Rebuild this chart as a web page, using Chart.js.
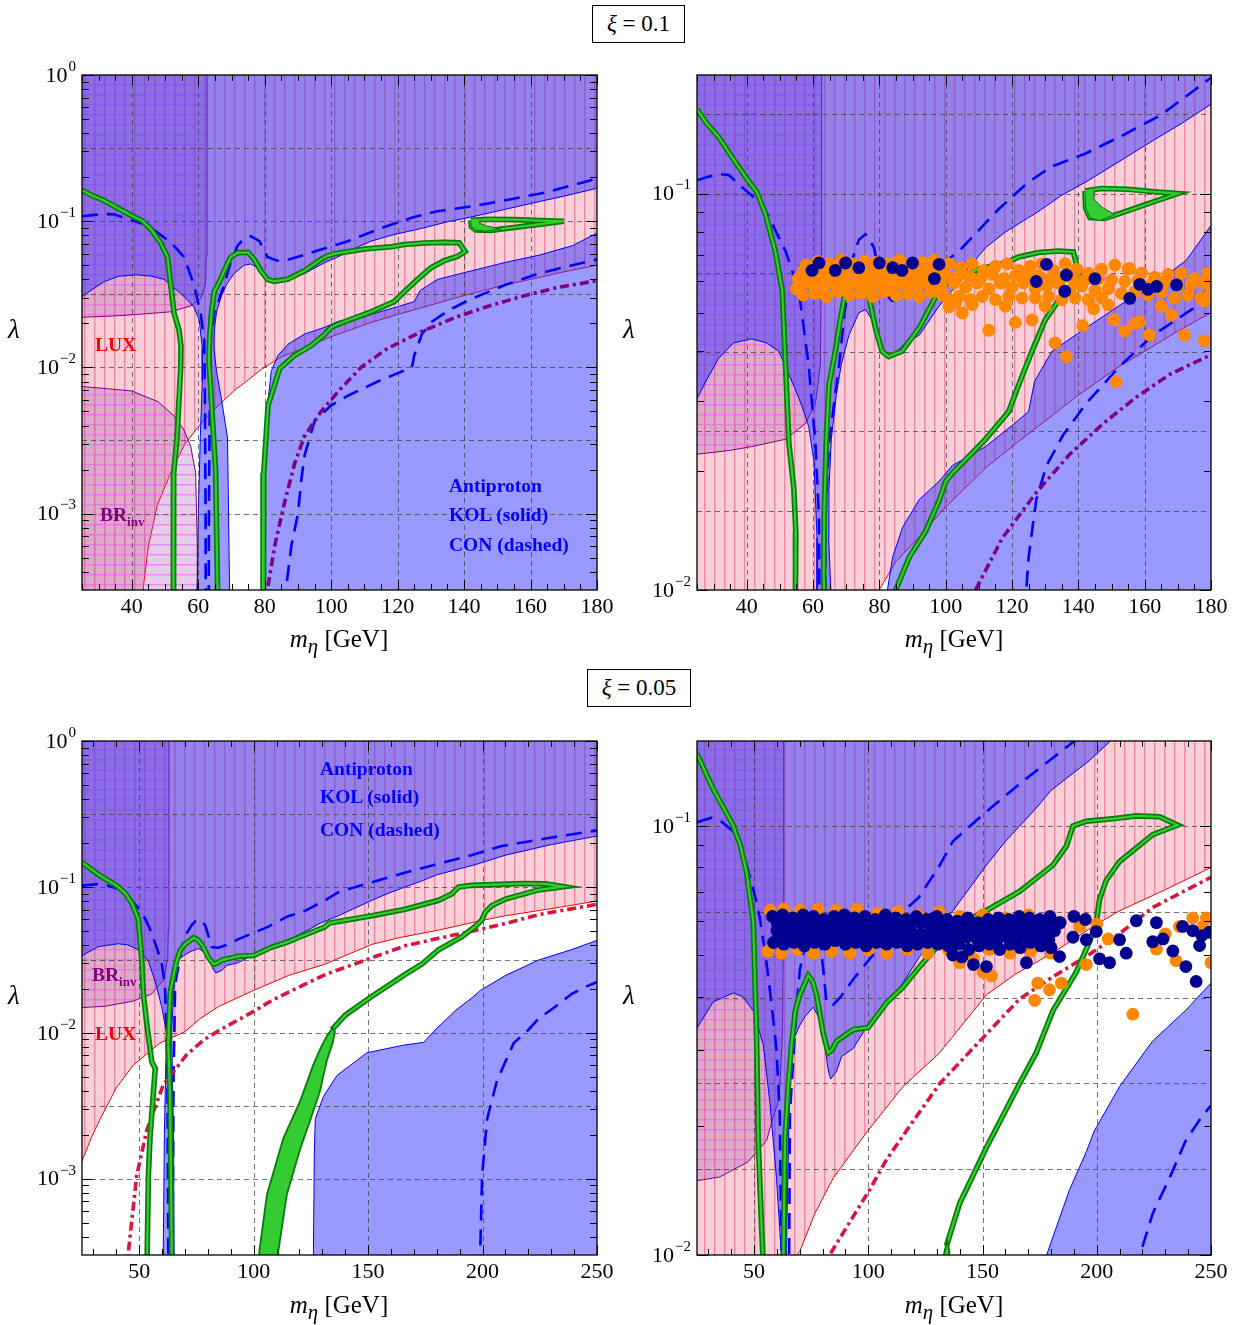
<!DOCTYPE html>
<html>
<head>
<meta charset="utf-8">
<script src="https://cdn.jsdelivr.net/npm/chart.js@4.4.1/dist/chart.umd.min.js"></script>
<style>
body{margin:0;background:#fff;}
#page{position:relative;width:1244px;height:1325px;font-family:"Liberation Serif",serif;color:#000;}
canvas{position:absolute;}
.t{position:absolute;white-space:nowrap;line-height:1;}
.box{position:absolute;border:1px solid #000;box-sizing:border-box;font-size:23px;text-align:center;line-height:36px;background:#fff;}
.ax{font-size:25px;transform:translateX(-50%);}
.lam{font-size:27px;font-style:italic;}
.note{font-weight:bold;font-size:19.5px;}
.sub{font-size:13px;position:relative;top:5px;}
</style>
</head>
<body>
<div id="page">
<canvas id="c1" width="620" height="600" style="left:0;top:60px"></canvas>
<canvas id="c2" width="624" height="600" style="left:620px;top:60px"></canvas>
<canvas id="c3" width="620" height="600" style="left:0;top:725px"></canvas>
<canvas id="c4" width="624" height="600" style="left:620px;top:725px"></canvas>

<div class="box" style="left:592px;top:5px;width:93px;height:38px"><i>ξ</i> = 0.1</div>
<div class="box" style="left:587px;top:669px;width:104px;height:38px"><i>ξ</i> = 0.05</div>

<div class="t lam" style="left:8px;top:316px">λ</div>
<div class="t lam" style="left:623px;top:316px">λ</div>
<div class="t lam" style="left:8px;top:982px">λ</div>
<div class="t lam" style="left:623px;top:982px">λ</div>

<div class="t ax" style="left:339px;top:626px"><i>m</i><sub><i>η</i></sub> [GeV]</div>
<div class="t ax" style="left:954px;top:626px"><i>m</i><sub><i>η</i></sub> [GeV]</div>
<div class="t ax" style="left:339px;top:1292px"><i>m</i><sub><i>η</i></sub> [GeV]</div>
<div class="t ax" style="left:954px;top:1292px"><i>m</i><sub><i>η</i></sub> [GeV]</div>

<div class="t note" style="left:95px;top:335px;color:#ff0000">LUX</div>
<div class="t note" style="left:100px;top:505px;color:#800080">BR<span class="sub">inv</span></div>
<div class="t note" style="left:449px;top:476px;color:#0000ff">Antiproton</div>
<div class="t note" style="left:449px;top:505px;color:#0000ff">KOL (solid)</div>
<div class="t note" style="left:449px;top:535px;color:#0000ff">CON (dashed)</div>

<div class="t note" style="left:320px;top:759px;color:#0000ff">Antiproton</div>
<div class="t note" style="left:320px;top:787px;color:#0000ff">KOL (solid)</div>
<div class="t note" style="left:320px;top:820px;color:#0000ff">CON (dashed)</div>
<div class="t note" style="left:92px;top:965px;color:#800080">BR<span class="sub">inv</span></div>
<div class="t note" style="left:95px;top:1024px;color:#ff0000">LUX</div>
</div>

<script>
/* xi = 0.1 : boundaries [m_eta, lambda] */
const lux01 = [[20,1e-5],[43,1e-5],[43.5,3.2e-4],[45,6e-4],[47.7,1.15e-3],[52.5,2.1e-3],[56,3e-3],[60.7,4.1e-3],[65,5.2e-3],[70.7,6.9e-3],[75,8.2e-3],[79,0.0097],[85,0.0118],[92,0.0136],[100,0.0162],[112,0.0203],[120,0.023],[132,0.0275],[140,0.031],[152,0.0365],[160,0.040],[170,0.045],[180,0.050],[185,0.053]];
const brHigh01 = [[20,0.0218],[25,0.022],[35,0.0225],[41.5,0.023],[51.7,0.024],[57.7,0.0263],[60.7,0.0295],[62.2,0.037],[62.4,0.057],[62.6,0.12],[62.7,100]];
const brLow01 = [[20,7.5e-3],[25,7.4e-3],[40,6.9e-3],[48,5.8e-3],[52.5,4.7e-3],[55.5,3.8e-3],[57.7,2.9e-3],[59.2,1.9e-3],[59.7,6e-4],[59.8,1e-5]];
const pbarUp01 = [[20,0.027],[25,0.0304],[28,0.034],[31.5,0.0384],[36,0.042],[41.5,0.043],[46,0.042],[49.7,0.040],[52,0.036],[54.7,0.032],[56.7,0.029],[58.7,0.0258],[60.3,0.021],[61.2,0.0135],[61.2,8e-3],[60.6,3.3e-3],[60,1e-3],[59.7,3.2e-4],[59.7,1e-5],[69.4,1e-5],[69.4,3.2e-4],[68.8,3.3e-3],[67,6e-3],[65.5,9.4e-3],[64.7,0.0135],[64.8,0.018],[65.5,0.024],[67,0.031],[68.5,0.037],[70.8,0.0439],[73.8,0.050],[75.8,0.051],[77.8,0.048],[79.5,0.044],[80.8,0.040],[82,0.0388],[84,0.0392],[88,0.042],[92,0.0439],[98,0.052],[102,0.057],[107,0.065],[112,0.073],[118,0.08],[125,0.087],[127,0.089],[135,0.099],[142.3,0.107],[152,0.12],[162.5,0.136],[171,0.15],[180,0.168],[185,0.178]];
const pbarLow01 = [[78.5,1e-5],[79.5,1e-5],[79.7,3.2e-4],[79.9,1e-3],[80.2,3e-3],[80.8,5.5e-3],[82,9.5e-3],[84,0.0121],[87,0.0144],[92,0.0169],[98,0.0188],[102,0.0206],[112,0.023],[120,0.026],[125,0.0282],[126.8,0.0336],[132,0.040],[142.3,0.0458],[152.5,0.0523],[162.5,0.0585],[172.6,0.068],[180,0.083],[185,0.09]];
const conUp01 = [[25,0.108],[28,0.110],[31.5,0.112],[34.6,0.1113],[39.6,0.102],[44.6,0.094],[46.6,0.0875],[51.7,0.0716],[55.7,0.057],[58.7,0.0367],[60.7,0.0235],[61.8,0.0151],[62,0.006],[62.2,1e-3],[62.3,1e-5],[63,1e-5],[63.2,1e-3],[63.5,8e-3],[63.8,0.016],[64.8,0.0235],[67.8,0.0367],[69.5,0.05],[71.8,0.068],[73.8,0.0764],[75.8,0.079],[78.4,0.073],[80.8,0.057],[83.8,0.0536],[87,0.0545],[91,0.058],[96,0.063],[105,0.073],[116,0.0914],[125,0.107],[132,0.117],[142,0.126],[152.5,0.139],[165,0.158],[180,0.196]];
const conLow01 = [[86,1e-5],[86.5,3.2e-4],[88,6e-4],[90,1e-3],[91,1.7e-3],[92,2.5e-3],[95,4.3e-3],[100,5.5e-3],[105,6.4e-3],[114,8e-3],[124.3,0.01],[125,0.0121],[127.3,0.0169],[130.4,0.0206],[135.4,0.0246],[142.3,0.0295],[152.5,0.0367],[162.5,0.0439],[172.6,0.050],[180,0.0548]];
const dashDot01 = [[80.5,1e-5],[81,3.2e-4],[83,6e-4],[86,1.2e-3],[89,2.2e-3],[92,3.4e-3],[97,5e-3],[103,7.2e-3],[109,0.01],[117,0.0135],[127.3,0.0176],[137.4,0.022],[147.5,0.0263],[157.6,0.0307],[167.6,0.035],[180,0.0392]];
const relicA01 = [[25,0.163],[28,0.15],[31.5,0.139],[36,0.122],[40,0.109],[43,0.101],[45.6,0.089],[48.6,0.0716],[50.7,0.057],[51.7,0.0367],[52.7,0.0235],[54.2,0.018],[54.8,0.014],[54.7,0.01],[53.6,3.3e-3],[52.6,1.9e-3],[52.5,3e-4],[52.5,1e-5]];
const relicB01 = [[65.8,1e-5],[65.8,3e-4],[65.2,2e-3],[64.6,3.3e-3],[63.6,8e-3],[63.2,0.011],[63.4,0.016],[64,0.024],[64.8,0.0329],[66.7,0.040],[67.8,0.0458],[69.8,0.057],[72,0.061],[75,0.061],[76.8,0.055],[78.8,0.0458],[80.8,0.040],[82.8,0.0388],[86.8,0.040],[92,0.0458],[97,0.055],[99,0.058],[101,0.06],[110,0.0645],[118,0.0668],[122,0.0692],[128,0.071],[134,0.0716],[138.5,0.0712],[140.3,0.062],[138,0.0575],[134,0.0537],[130,0.048],[126,0.040],[122,0.0329],[119,0.0282],[112,0.024],[102,0.0197],[100,0.0188],[98,0.0168],[94,0.0141],[89,0.0121],[84.5,0.0098],[81,5.5e-3],[79.7,1.9e-3],[79.5,3e-4],[79.5,1e-5]];
const relicLoop01 = [[142,0.1015],[147,0.103],[155,0.1025],[163,0.101],[170,0.1],[163,0.0955],[155,0.0905],[148,0.0865],[143.5,0.087],[142.2,0.092],[142,0.1015]];
const relicWedge01 = [[142,0.1015],[142.2,0.092],[143.5,0.087],[146.4,0.0855],[151,0.0885],[147,0.0925],[144.6,0.097],[144.8,0.1018]];

/* xi = 0.05 : boundaries [m_eta, lambda] */
const lux005 = [[20,1.1e-3],[25,1.32e-3],[29,1.9e-3],[32.9,2.56e-3],[40,4.2e-3],[47.4,6e-3],[59,8.5e-3],[70,0.0102],[76.6,0.0125],[84.6,0.0151],[99.2,0.0193],[115.2,0.0247],[131,0.0295],[151.7,0.0404],[164,0.045],[180.8,0.0506],[200,0.059],[210,0.0634],[230,0.071],[250,0.080],[255,0.082]];
const brHigh005 = [[20,0.0147],[25,0.0149],[35,0.0152],[47.4,0.0165],[55.5,0.0185],[58.4,0.021],[60.6,0.0228],[61.3,0.0251],[62.2,0.031],[62.5,0.0343],[62.7,0.05],[62.9,0.1],[63,100]];
const pbarUp005 = [[20,0.031],[24.7,0.0336],[32.1,0.0389],[40.9,0.0408],[45,0.040],[49.6,0.0371],[54,0.0309],[56.9,0.0227],[59.8,0.0151],[61,0.012],[61.9,0.01],[61.5,5e-3],[61,2e-3],[60.5,3.2e-4],[60.5,1e-5],[65.2,1e-5],[65.2,3.2e-4],[65,2e-3],[64.5,5e-3],[64.2,0.01],[64.4,0.012],[65.2,0.02],[65.9,0.027],[67.5,0.032],[70,0.0343],[72.2,0.0359],[75.9,0.0378],[78,0.036],[80.2,0.0329],[82.4,0.027],[83.5,0.0257],[86.1,0.0268],[88.3,0.029],[93.4,0.0303],[100,0.0345],[108,0.038],[115,0.043],[122.5,0.0496],[129,0.0563],[137,0.0634],[151.7,0.081],[160,0.092],[173.5,0.110],[180,0.121],[196.8,0.142],[210,0.165],[230,0.195],[250,0.223],[255,0.23]];
const pbarLow005 = [[125,1e-5],[126.1,1e-5],[126.1,3.2e-4],[126.5,1.5e-3],[126.9,2.57e-3],[130.5,3.67e-3],[136.4,5.1e-3],[149.5,7.3e-3],[165,8.2e-3],[174.3,8.6e-3],[178.6,0.0102],[188.1,0.0142],[195.4,0.0174],[199,0.0195],[210,0.0247],[224.4,0.0315],[239,0.0372],[250,0.043],[255,0.045]];
const conUp005 = [[25,0.102],[31.4,0.1045],[36,0.102],[40.9,0.097],[44,0.09],[47,0.08],[50,0.07],[52.5,0.061],[55,0.05],[57.5,0.039],[59.8,0.03],[61.2,0.0215],[62,0.01],[62.3,5e-3],[62.7,3.2e-4],[62.8,1e-5],[64.5,1e-5],[64.6,3.2e-4],[65,5e-3],[65.7,0.0215],[68.6,0.0381],[70,0.046],[73,0.055],[74.4,0.058],[75.9,0.06],[77.3,0.058],[78.8,0.0546],[80.2,0.0466],[81.7,0.0387],[84.6,0.0383],[88,0.040],[93.4,0.0439],[102,0.050],[106,0.053],[115,0.063],[122,0.068],[131.3,0.081],[137,0.092],[150,0.106],[166,0.125],[180,0.143],[195,0.165],[208,0.19],[230,0.218],[250,0.244]];
const conLow005 = [[199,1e-5],[199,3.2e-4],[199.8,1.05e-3],[202,2.57e-3],[206.3,4.7e-3],[213.6,8.5e-3],[220.1,0.0105],[224.5,0.0125],[231.8,0.0151],[239,0.0185],[245.7,0.0209],[250,0.0223]];
const dashDot005 = [[45.3,1e-5],[45.3,3.2e-4],[48.9,1.05e-3],[53.3,2.15e-3],[60.5,4.4e-3],[70.8,7.1e-3],[78,8.9e-3],[84.5,0.0103],[93.4,0.0123],[100.6,0.0142],[108,0.0167],[119.6,0.0205],[131.3,0.0251],[149.5,0.0318],[166.2,0.0395],[180.8,0.0445],[195.4,0.0496],[210,0.0561],[224.4,0.0645],[250,0.0759]];
const relicA005 = [[25,0.147],[32,0.122],[40.5,0.101],[44,0.09],[46.7,0.078],[49.6,0.06],[51.1,0.032],[51.8,0.0185],[53.3,0.0115],[55.5,6.3e-3],[57,5.7e-3],[54.7,1.9e-3],[54,1.05e-3],[53.5,3.2e-4],[53.3,1e-5]];
const relicB005 = [[64.2,1e-5],[64.2,3.2e-4],[63.5,3.5e-3],[62.7,8.5e-3],[63.5,0.0187],[65,0.025],[66.4,0.031],[68,0.037],[70,0.0404],[73.7,0.0448],[75.5,0.0435],[77.3,0.0404],[80.2,0.0329],[82.4,0.0296],[84,0.030],[86.1,0.0315],[93.4,0.0335],[100,0.0339],[108,0.0387],[115,0.042],[122.5,0.047],[131,0.053],[133,0.0565],[137,0.058],[151.7,0.0635],[166.2,0.0703],[180.8,0.081],[186.7,0.0897],[189.6,0.1],[195.4,0.1025],[207.8,0.104],[217.3,0.1055],[227.5,0.105],[235.4,0.1004],[224.5,0.0954],[210,0.0826],[204.1,0.0746],[201.2,0.0673],[199.8,0.0596],[196.8,0.0537],[191,0.0456],[180.8,0.0371],[173.5,0.0296],[166.2,0.0251],[151.7,0.0178],[140,0.0132],[134.2,0.0105]];
const relicWide005 = [[102,1e-5],[102.5,3.2e-4],[105.8,7.8e-4],[113,1.9e-3],[120.3,3.4e-3],[126,6e-3],[129.5,8e-3],[132,9.5e-3],[134.5,0.0108],[135.5,0.0102],[134.5,8.5e-3],[132,6.5e-3],[129,4e-3],[125,2.6e-3],[120.3,1.6e-3],[114.5,7.8e-4],[110.8,3.2e-4],[110.8,1e-5]];

/* scan points [m_eta, lambda] */
const orange01 = [
[58,0.066],[61.5,0.0675],[65,0.0665],[68.5,0.068],[72,0.0665],[75.5,0.0675],[79,0.067],[82.5,0.0665],[86,0.068],[89.5,0.0665],[93,0.067],[96.5,0.068],
[57,0.0635],[60.5,0.064],[64,0.0635],[67.5,0.064],[71,0.0635],[74.5,0.064],[78,0.0635],[81.5,0.064],[85,0.0635],[88.5,0.064],[92,0.0635],[95.5,0.064],[99,0.0635],
[55.5,0.061],[59,0.0615],[62.5,0.0605],[66,0.062],[69.5,0.0605],[73,0.0615],[76.5,0.061],[80,0.062],[83.5,0.0605],[87,0.0615],[90.5,0.0605],[94,0.062],[97.5,0.0605],
[56.5,0.0585],[60,0.059],[63.5,0.0585],[67,0.059],[70.5,0.0585],[74,0.059],[77.5,0.0585],[81,0.059],[84.5,0.0585],[88,0.059],[91.5,0.0585],[95,0.059],[98.5,0.0585],
[55,0.0575],[57,0.0555],[60.5,0.056],[64,0.055],[67.5,0.0565],[71,0.0555],[74.5,0.056],[78,0.055],[81.5,0.0565],[85,0.0555],[88.5,0.056],[92,0.055],[95.5,0.0565],[99,0.0555],
[101,0.0665],[104.5,0.065],[108,0.0665],[111.5,0.064],[115,0.0655],[118.5,0.0665],[122,0.064],[125.5,0.0655],[129,0.0665],[132.5,0.064],[136,0.0665],[139.5,0.0645],[143,0.063],[147,0.0645],[151,0.066],[155,0.0645],[159,0.063],[163,0.0615],[167,0.0625],[171,0.063],[175,0.061],[179,0.063],
[100,0.062],[103.5,0.0615],[107,0.062],[110.5,0.061],[114,0.0625],[117.5,0.061],[121,0.062],[124.5,0.0615],[128,0.062],[131.5,0.061],[135,0.0615],[138.5,0.0605],[142,0.0605],[146,0.061],[150,0.0605],[154,0.06],[158,0.0605],[162,0.059],[166,0.06],[170,0.0585],[174,0.059],[178,0.0595],
[102.5,0.0595],[106,0.058],[109.5,0.0595],[113,0.0575],[116.5,0.0595],[120,0.058],[123.5,0.0595],[127,0.0575],[130.5,0.0585],[134,0.0595],[137.5,0.057],[141,0.0585],[145,0.057],[149,0.0575],[153,0.056],[157,0.0565],[161,0.0555],[165,0.0565],[169,0.0545],[173,0.0555],[177,0.0545],[180,0.056],
[100.5,0.0545],[104,0.055],[107.5,0.054],[111,0.055],[115,0.054],[119,0.055],[123,0.0545],[127,0.0545],[131,0.055],[135,0.054],[139,0.0545],[143,0.054],[147,0.0545],
[103,0.053],[105,0.050],[101,0.0518],[113,0.0452],[108,0.0525],[121,0.0473],[126,0.048],[133,0.042],[136.4,0.0388],[141.3,0.0464],[144.6,0.0512],[151.4,0.0335],[150.8,0.048],[154,0.045],[157,0.047],[158.5,0.0475],[161.5,0.044],[168,0.0495],[172,0.044],[178,0.0425],[178,0.0536],[149,0.0524],[155.5,0.0647],[118,0.052],[130,0.052],[165,0.052]];
const navy01 = [[59.7,0.064],[61.8,0.0668],[66.7,0.064],[69.8,0.0668],[73.8,0.065],[80,0.0668],[84,0.065],[86.8,0.064],[90,0.0668],[96.6,0.061],[98,0.0663],[127.3,0.060],[130.4,0.0663],[135.9,0.0567],[136.4,0.0623],[145,0.061],[155.5,0.0544],[158.5,0.059],[161,0.0573],[163.6,0.0583],[169.6,0.0588]];
const orange005 = [
[57,0.0635],[63,0.064],[70,0.0635],[78,0.064],[86,0.0635],[95,0.064],[104,0.0625],[113,0.063],[122,0.062],[131,0.063],[140,0.0615],[150,0.062],[160,0.061],[170,0.062],[180,0.0605],[190,0.0615],
[56,0.051],[62,0.0505],[69,0.0515],[76,0.0505],[84,0.051],[92,0.0505],[100,0.0515],[108,0.0505],[117,0.0515],[126,0.0505],[135,0.0515],[144,0.0505],[153,0.0515],[162,0.0505],[171,0.051],[180,0.0505],
[150.2,0.0456],[153.9,0.0447],[172.8,0.0392],[174.2,0.043],[179.3,0.0415],[184.5,0.043],[192.5,0.0583],[195.4,0.0475],[215.8,0.0364],[226.1,0.0516],[234.7,0.0485],[236.2,0.0583],[246.4,0.0583],[250,0.048],[200,0.059],[205,0.0545],[146,0.049],[140,0.048],[230,0.056],[242,0.061],[248,0.061]];
const navy005 = [
[58,0.0615],[62.5,0.062],[67,0.061],[71.5,0.062],[76,0.0615],[80.5,0.0605],[85,0.0615],[89.5,0.062],[94,0.061],[98.5,0.0615],[103,0.0605],[107.5,0.062],[112,0.061],[116.5,0.0605],[121,0.0615],[125.5,0.0605],[130,0.0615],[134.5,0.0605],[139,0.060],[143.5,0.061],[148,0.0595],[152.5,0.0605],[157,0.061],[161.5,0.0605],[166,0.0615],[170.5,0.061],[175,0.0605],[179.5,0.0615],[184,0.0595],
[60.2,0.0592],[64.7,0.059],[69.2,0.0595],[73.7,0.0588],[78.2,0.0592],[82.7,0.059],[87.2,0.0595],[91.7,0.0588],[96.2,0.0592],[100.7,0.059],[105.2,0.0595],[109.7,0.0588],[114.2,0.0592],[118.7,0.059],[123.2,0.0595],[127.7,0.0588],[132.2,0.0592],[136.7,0.059],[141.2,0.0585],[145.7,0.0588],[150.2,0.059],[154.7,0.0585],[159.2,0.0592],[163.7,0.0588],[168.2,0.059],[172.7,0.0585],[177.2,0.059],[181.7,0.0588],
[60,0.057],[64.5,0.0565],[69,0.0575],[73.5,0.0565],[78,0.057],[82.5,0.0575],[87,0.0565],[91.5,0.057],[96,0.0575],[100.5,0.0565],[105,0.057],[109.5,0.0575],[114,0.0565],[118.5,0.057],[123,0.056],[127.5,0.057],[132,0.0565],[136.5,0.0575],[141,0.056],[145.5,0.0565],[150,0.0575],[154.5,0.056],[159,0.0565],[163.5,0.0575],[168,0.0565],[172.5,0.057],[177,0.0565],[181.5,0.057],
[62,0.055],[66.5,0.0548],[71,0.0553],[75.5,0.0548],[80,0.055],[84.5,0.0553],[89,0.0548],[93.5,0.055],[98,0.0553],[102.5,0.0548],[107,0.055],[111.5,0.0553],[116,0.0548],[120.5,0.055],[125,0.0545],[129.5,0.055],[134,0.0548],[138.5,0.0545],[143,0.055],[147.5,0.0545],[152,0.0548],[156.5,0.0543],[161,0.055],[165.5,0.0545],[170,0.0548],[174.5,0.0545],[179,0.0543],
[58.5,0.0535],[63,0.053],[67.5,0.0535],[72,0.0525],[76.5,0.0535],[81,0.053],[85.5,0.054],[90,0.053],[94.5,0.0535],[99,0.0525],[103.5,0.0535],[108,0.053],[112.5,0.0535],[117,0.0525],[121.5,0.053],[126,0.0535],[130.5,0.053],[135,0.0525],[139.5,0.053],[144,0.0515],[148.5,0.0525],[153,0.053],[157.5,0.0515],[162,0.053],[166.5,0.052],[171,0.0535],[175.5,0.0525],[180,0.052],
[128.3,0.0608],[137,0.05],[141,0.0495],[146,0.0475],[169.2,0.048],[151.7,0.047],[183.7,0.0595],[189.6,0.055],[183.7,0.0496],[195.4,0.0543],[199.8,0.0567],[201.2,0.049],[205.6,0.048],[210,0.0543],[212.9,0.0505],[217.3,0.0601],[224.5,0.0537],[226.1,0.0595],[229,0.0545],[233.3,0.0511],[237.6,0.0583],[239,0.047],[242,0.057],[243.5,0.0434],[245,0.0526],[249.3,0.0565],[246,0.0555],[190,0.0615],[195,0.0605]];

/* axes */
const xTicksA = [40,60,80,100,120,140,160,180];
const xTicksB = [50,100,150,200,250];
const yGridWide = [-0.5,-1,-1.5,-2,-2.5,-3];
const yGridZoom01 = [-0.8,-1,-1.2,-1.4,-1.6,-1.8];
const yGridZoom005 = [-1,-1.2,-1.4,-1.6,-1.8];

const SERIF = 'Liberation Serif';
const pts = a => a.map(p => ({x: p[0], y: p[1]}));
const closeTop = c => c.concat([[c[c.length - 1][0], 100], [c[0][0], 100]]);
const closeBottom = c => c.concat([[c[c.length - 1][0], 1e-7], [c[0][0], 1e-7]]);

function hatch(bg, line, vertical) {
  const c = document.createElement('canvas');
  c.width = 10; c.height = 10;
  const g = c.getContext('2d');
  g.fillStyle = bg; g.fillRect(0, 0, 10, 10);
  g.fillStyle = line;
  if (vertical) g.fillRect(4, 0, 1, 10); else g.fillRect(0, 4, 10, 1);
  g.globalAlpha = 0.45;
  if (vertical) g.fillRect(5, 0, 1, 10); else g.fillRect(0, 5, 10, 1);
  return g.createPattern(c, 'repeat');
}
const luxFill = hatch('#f9cfd7', '#e98aa6', true);
const brFill = hatch('rgba(150,60,170,0.26)', 'rgba(235,95,235,0.6)', false);
const pbarFill = 'rgba(51,51,255,0.5)';

function region(c, bg, edge) {
  return {data: pts(c), fill: 'shape', backgroundColor: bg, borderColor: edge, borderWidth: 1, pointRadius: 0, tension: 0};
}
function curve(c, color, width, dash) {
  return {data: pts(c), fill: false, borderColor: color, borderWidth: width, borderDash: dash || [], pointRadius: 0, tension: 0};
}
function relic(c) {
  return [curve(c, '#0a7a0a', 5.6), curve(c, '#33cc33', 2.2)];
}
function dots(c, color) {
  return {data: pts(c), showLine: false, pointRadius: 6.4, pointBorderWidth: 0, pointBackgroundColor: color, backgroundColor: color, borderColor: color};
}

/* frame, grid, ticks and power-of-ten labels */
function drawGrid(chart, cfg) {
  const {ctx, chartArea: a, scales: {x, y}} = chart;
  ctx.save();
  ctx.beginPath(); ctx.rect(a.left, a.top, a.width, a.height); ctx.clip();
  ctx.strokeStyle = 'rgba(60,60,60,0.7)'; ctx.lineWidth = 1; ctx.setLineDash([5, 4]);
  ctx.beginPath();
  cfg.yGrid.forEach(e => {
    const py = Math.round(y.getPixelForValue(Math.pow(10, e))) + 0.5;
    ctx.moveTo(a.left, py); ctx.lineTo(a.right, py);
  });
  cfg.xTicks.forEach(v => {
    const px = Math.round(x.getPixelForValue(v)) + 0.5;
    ctx.moveTo(px, a.top); ctx.lineTo(px, a.bottom);
  });
  ctx.stroke();
  ctx.restore();
}

function drawFrame(chart, cfg) {
  const {ctx, chartArea: a, scales: {x, y}} = chart;
  ctx.save();
  ctx.strokeStyle = '#000'; ctx.lineWidth = 1;
  ctx.beginPath();
  const lo = Math.floor(Math.log10(cfg.yMin)), hi = Math.ceil(Math.log10(cfg.yMax));
  for (let k = lo; k <= hi; k++) {
    for (let d = 1; d <= 9; d++) {
      const v = d * Math.pow(10, k);
      if (v < cfg.yMin * 0.999 || v > cfg.yMax * 1.001) continue;
      const py = Math.round(y.getPixelForValue(v)) + 0.5;
      const len = d === 1 ? 11 : 7;
      ctx.moveTo(a.left, py); ctx.lineTo(a.left + len, py);
      ctx.moveTo(a.right, py); ctx.lineTo(a.right - len, py);
    }
  }
  for (let v = Math.ceil(cfg.xMin / cfg.xMinor) * cfg.xMinor; v <= cfg.xMax; v += cfg.xMinor) {
    const px = Math.round(x.getPixelForValue(v)) + 0.5;
    const len = v % cfg.xMajor === 0 ? 10 : 6;
    ctx.moveTo(px, a.bottom); ctx.lineTo(px, a.bottom - len);
    ctx.moveTo(px, a.top); ctx.lineTo(px, a.top + len);
  }
  ctx.stroke();
  ctx.lineWidth = 1.3;
  ctx.strokeRect(a.left, a.top, a.width, a.height);

  ctx.fillStyle = '#000'; ctx.textBaseline = 'middle'; ctx.textAlign = 'left';
  cfg.yLabels.forEach(e => {
    const py = y.getPixelForValue(Math.pow(10, e));
    const sup = e === 0 ? '0' : '\u2212' + (-e);
    ctx.font = '15px "' + SERIF + '"';
    const sw = ctx.measureText(sup).width;
    ctx.font = '22px "' + SERIF + '"';
    const bw = ctx.measureText('10').width;
    const right = a.left - 6;
    ctx.fillText('10', right - sw - bw - 1, py + 1);
    ctx.font = '15px "' + SERIF + '"';
    ctx.fillText(sup, right - sw, py - 8);
  });
  ctx.restore();
}

function panel(id, cfg) {
  const sets = cfg.sets;
  sets.forEach((d, i) => { d.order = sets.length - i; d.clip = 0; });
  return new Chart(document.getElementById(id), {
    type: 'line',
    data: {datasets: sets},
    options: {
      responsive: false, animation: false, events: [], devicePixelRatio: 1,
      layout: {padding: {top: cfg.top, right: cfg.right, left: 0, bottom: 0}},
      plugins: {legend: {display: false}, tooltip: {enabled: false}},
      scales: {
        x: {
          type: 'linear', min: cfg.xMin, max: cfg.xMax,
          grid: {display: false, drawTicks: false, tickLength: 0}, border: {display: false},
          ticks: {font: {family: SERIF, size: 22}, color: '#000', padding: 4, maxRotation: 0, autoSkip: false},
          afterBuildTicks: s => { s.ticks = cfg.xTicks.map(v => ({value: v})); },
          afterFit: s => { s.height = 70; }
        },
        y: {
          type: 'logarithmic', min: cfg.yMin, max: cfg.yMax,
          grid: {display: false}, border: {display: false},
          ticks: {display: false},
          afterFit: s => { s.width = cfg.left; }
        }
      }
    },
    plugins: [{
      id: 'frame',
      afterDatasetDraw(chart, args) {
        if (chart.data.datasets[args.index].gridAfter) drawGrid(chart, cfg);
      },
      afterDraw(chart) { drawFrame(chart, cfg); }
    }]
  });
}

const dashCon = [16, 9];
const dashDot = [9, 4, 3, 4];

function setsXi01(withDots) {
  const upper = region(closeTop(pbarUp01), pbarFill, '#0000ff');
  const lower = region(closeBottom(pbarLow01), pbarFill, '#0000ff');
  lower.gridAfter = true;
  const wedge = region(relicWedge01, '#33cc33', '#0a7a0a');
  const s = [
    region(closeTop(lux01), luxFill, '#ff0000'),
    region(closeTop(brHigh01), brFill, '#800080'),
    region(closeBottom(brLow01), brFill, '#800080'),
    upper, lower,
    curve(conUp01, '#0000ff', 2.6, dashCon),
    curve(conLow01, '#0000ff', 2.6, dashCon),
    curve(dashDot01, '#800080', 3.6, dashDot),
    ...relic(relicA01), ...relic(relicB01), ...relic(relicLoop01), wedge
  ];
  if (withDots) s.push(dots(orange01, '#ff8800'), dots(navy01, '#000090'));
  return s;
}

function setsXi005(withDots) {
  const upper = region(closeTop(pbarUp005), pbarFill, '#0000ff');
  const lower = region(closeBottom(pbarLow005), pbarFill, '#0000ff');
  lower.gridAfter = true;
  const wide = region(relicWide005, '#33cc33', '#0a7a0a');
  wide.borderWidth = 1.8;
  const s = [
    region(closeTop(lux005), luxFill, '#ff0000'),
    region(closeTop(brHigh005), brFill, '#800080'),
    upper, lower,
    curve(conUp005, '#0000ff', 2.6, dashCon),
    curve(conLow005, '#0000ff', 2.6, dashCon),
    curve(dashDot005, '#dc143c', 3.6, dashDot),
    ...relic(relicA005), ...relic(relicB005), wide
  ];
  if (withDots) s.push(dots(orange005, '#ff8800'), dots(navy005, '#000090'));
  return s;
}

panel('c1', {sets: setsXi01(false), xMin: 25, xMax: 180, yMin: Math.pow(10, -3.5), yMax: 1,
  xTicks: xTicksA, xMinor: 5, xMajor: 20, yGrid: yGridWide, yLabels: [0, -1, -2, -3],
  left: 82, top: 15, right: 23});
panel('c2', {sets: setsXi01(true), xMin: 25, xMax: 180, yMin: 0.01, yMax: Math.pow(10, -0.701),
  xTicks: xTicksA, xMinor: 5, xMajor: 20, yGrid: yGridZoom01, yLabels: [-1, -2],
  left: 77, top: 15, right: 33});
panel('c3', {sets: setsXi005(false), xMin: 25, xMax: 250, yMin: Math.pow(10, -3.5), yMax: 1,
  xTicks: xTicksB, xMinor: 10, xMajor: 50, yGrid: yGridWide, yLabels: [0, -1, -2, -3],
  left: 82, top: 16, right: 23});
panel('c4', {sets: setsXi005(true), xMin: 25, xMax: 250, yMin: 0.01, yMax: Math.pow(10, -0.8023),
  xTicks: xTicksB, xMinor: 10, xMajor: 50, yGrid: yGridZoom005, yLabels: [-1, -2],
  left: 77, top: 16, right: 33});
</script>
</body>
</html>
